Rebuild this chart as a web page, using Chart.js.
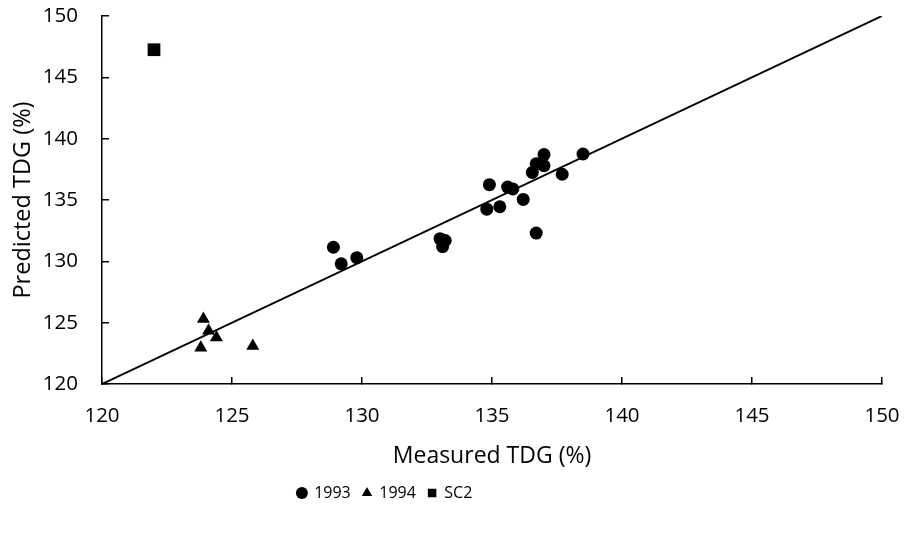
<!DOCTYPE html>
<html>
<head>
<meta charset="utf-8">
<script src="https://cdn.jsdelivr.net/npm/chart.js@4"></script>
<style>
  html, body { margin: 0; padding: 0; background: #fff; }
  #wrap { width: 906px; height: 539px; }
</style>
</head>
<body>
<div id="wrap"><canvas id="myChart"></canvas></div>
<script>
// measured / predicted TDG (%)
var measured1993 = [128.9, 129.2, 129.8, 133.0, 133.1, 133.2, 134.8, 134.9, 135.3, 135.6, 135.8, 136.2, 136.55, 136.7, 136.7, 137.0, 137.0, 137.7, 138.5];
var predicted1993 = [131.15, 129.8, 130.3, 131.85, 131.2, 131.7, 134.25, 136.25, 134.45, 136.05, 135.9, 135.05, 137.25, 132.3, 137.95, 138.7, 137.8, 137.1, 138.75];
var measured1994 = [123.9, 124.1, 124.4, 123.8, 125.8];
var predicted1994 = [125.3, 124.35, 123.8, 122.95, 123.1];
var measuredSC2 = [122.0];
var predictedSC2 = [147.25];
var lineX = [120, 150];
var lineY = [120, 150];
var xTicks = [120, 125, 130, 135, 140, 145, 150];
var yTicks = [120, 125, 130, 135, 140, 145, 150];

function pairs(xs, ys) {
  var out = [];
  for (var i in xs) {
    out.push({x: xs[i], y: ys[i]});
  }
  return out;
}

var fontName = "'Open Sans', 'Noto Sans', sans-serif";

// move the legend a bit to the left, like the original
const legendShift = {
  id: 'legendShift',
  afterLayout(chart) {
    chart.legend.left -= 56;
    chart.legend.right -= 56;
  }
};

const data = {
  datasets: [{
    type: 'line',
    label: '1:1',
    data: pairs(lineX, lineY),
    borderColor: '#000',
    borderWidth: 2,
    pointRadius: 0,
    fill: false,
    order: 2
  }, {
    type: 'scatter',
    label: '1993',
    data: pairs(measured1993, predicted1993),
    pointStyle: 'circle',
    pointRadius: 6.5,
    backgroundColor: '#000',
    borderColor: '#000',
    borderWidth: 0,
    order: 1
  }, {
    type: 'scatter',
    label: '1994',
    data: pairs(measured1994, predicted1994),
    pointStyle: 'triangle',
    pointRadius: 7.5,
    backgroundColor: '#000',
    borderColor: '#000',
    borderWidth: 0,
    order: 1
  }, {
    type: 'scatter',
    label: 'SC2',
    data: pairs(measuredSC2, predictedSC2),
    pointStyle: 'rect',
    pointRadius: 9,
    backgroundColor: '#000',
    borderColor: '#000',
    borderWidth: 0,
    order: 1
  }]
};

const config = {
  type: 'scatter',
  data: data,
  options: {
    responsive: true,
    maintainAspectRatio: false,
    animation: false,
    layout: {
      padding: {top: 16, right: 24, left: 0, bottom: 28}
    },
    plugins: {
      tooltip: {enabled: false},
      legend: {
        position: 'bottom',
        labels: {
          filter: function (item) { return item.text !== '1:1'; },
          usePointStyle: true,
          boxWidth: 8.5,
          boxHeight: 8.5,
          padding: 12,
          color: '#000',
          font: {family: fontName, size: 16}
        }
      }
    },
    scales: {
      x: {
        type: 'linear',
        min: 120,
        max: 150,
        afterBuildTicks: function (scale) {
          scale.ticks = xTicks.map(function (v) { return {value: v}; });
        },
        afterFit: function (scale) {
          scale.height = 89;
          scale.paddingLeft = 0;
          scale.paddingRight = 0;
        },
        border: {color: '#000', width: 1.5},
        grid: {drawOnChartArea: false, drawTicks: true, tickLength: -7, color: '#000', lineWidth: 1.5},
        ticks: {color: '#000', padding: 27, font: {family: fontName, size: 20.5}},
        title: {display: true, text: 'Measured TDG (%)', color: '#000', padding: {bottom: 3}, font: {family: fontName, size: 23}}
      },
      y: {
        type: 'linear',
        min: 120,
        max: 150,
        afterBuildTicks: function (scale) {
          scale.ticks = yTicks.map(function (v) { return {value: v}; });
        },
        afterFit: function (scale) {
          scale.width = 102;
          scale.paddingTop = 0;
          scale.paddingBottom = 0;
        },
        border: {color: '#000', width: 1.5},
        grid: {drawOnChartArea: false, drawTicks: true, tickLength: -7, color: '#000', lineWidth: 1.5},
        ticks: {color: '#000', padding: 31, font: {family: fontName, size: 20.5}},
        title: {display: true, text: 'Predicted TDG (%)', color: '#000', padding: {top: 9}, font: {family: fontName, size: 23.5}}
      }
    }
  },
  plugins: [legendShift]
};

const myChart = new Chart(document.getElementById('myChart'), config);
</script>
</body>
</html>
